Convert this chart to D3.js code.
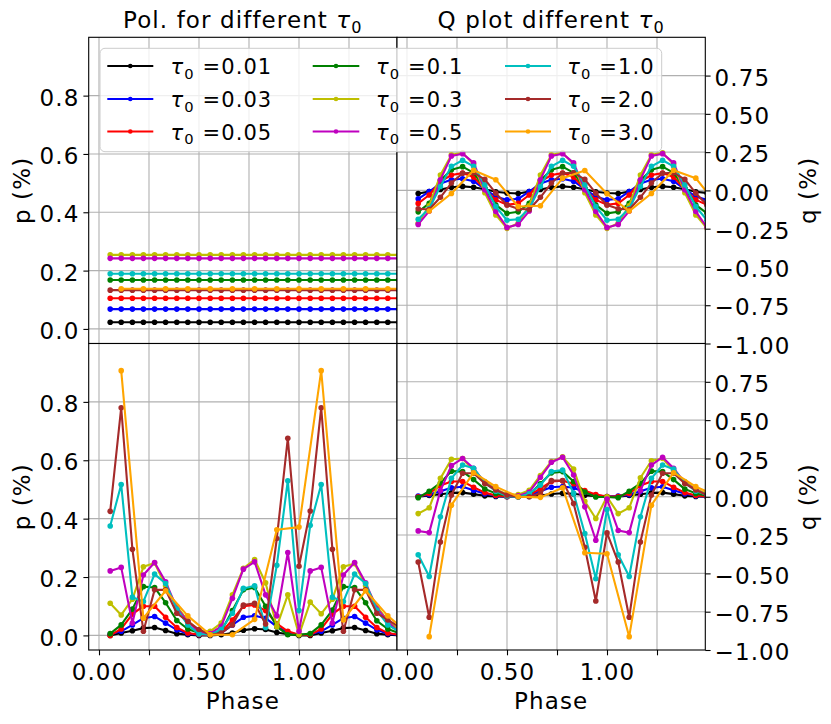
<!DOCTYPE html>
<html>
<head>
<meta charset="utf-8">
<script src="https://cdn.jsdelivr.net/npm/d3@7"></script>
<style>
  body { margin: 0; background: #fff; }
  text { font-family: "DejaVu Sans", sans-serif; fill: #000; }
</style>
</head>
<body>
<svg id="chart" width="831" height="724"></svg>
<script>
// ---- data ----
const tauLabels = ["0.01", "0.03", "0.05", "0.1", "0.3", "0.5", "1.0", "2.0", "3.0"];
const seriesColors = ["#000000", "#0000ff", "#ff0000", "#008000", "#bfbf00", "#bf00bf", "#00bfbf", "#a52a2a", "#ffa500"];

// phase sampling: most runs every 1/18, the tau=3.0 run every 1/9
const phaseFine = [0.056, 0.111, 0.167, 0.222, 0.278, 0.333, 0.389, 0.444, 0.5,
  0.556, 0.611, 0.667, 0.722, 0.778, 0.833, 0.889, 0.944, 1.0,
  1.056, 1.111, 1.167, 1.222, 1.278, 1.333, 1.389, 1.444, 1.5];
const phaseCoarse = [0.111, 0.222, 0.333, 0.444, 0.556, 0.667, 0.778, 0.889, 1.0, 1.111, 1.222, 1.333, 1.444, 1.556];
const seriesPhase = [phaseFine, phaseFine, phaseFine, phaseFine, phaseFine, phaseFine, phaseFine, phaseFine, phaseCoarse];

// top left: p (%)
const pTop = [
  [0.023, 0.023, 0.023, 0.023, 0.023, 0.023, 0.023, 0.023, 0.023, 0.023, 0.023, 0.023, 0.023, 0.023, 0.023, 0.023, 0.023, 0.023, 0.023, 0.023, 0.023, 0.023, 0.023, 0.023, 0.023, 0.023, 0.023],
  [0.068, 0.068, 0.068, 0.068, 0.068, 0.068, 0.068, 0.068, 0.068, 0.068, 0.068, 0.068, 0.068, 0.068, 0.068, 0.068, 0.068, 0.068, 0.068, 0.068, 0.068, 0.068, 0.068, 0.068, 0.068, 0.068, 0.068],
  [0.105, 0.105, 0.105, 0.105, 0.105, 0.105, 0.105, 0.105, 0.105, 0.105, 0.105, 0.105, 0.105, 0.105, 0.105, 0.105, 0.105, 0.105, 0.105, 0.105, 0.105, 0.105, 0.105, 0.105, 0.105, 0.105, 0.105],
  [0.168, 0.168, 0.168, 0.168, 0.168, 0.168, 0.168, 0.168, 0.168, 0.168, 0.168, 0.168, 0.168, 0.168, 0.168, 0.168, 0.168, 0.168, 0.168, 0.168, 0.168, 0.168, 0.168, 0.168, 0.168, 0.168, 0.168],
  [0.254, 0.254, 0.254, 0.254, 0.254, 0.254, 0.254, 0.254, 0.254, 0.254, 0.254, 0.254, 0.254, 0.254, 0.254, 0.254, 0.254, 0.254, 0.254, 0.254, 0.254, 0.254, 0.254, 0.254, 0.254, 0.254, 0.254],
  [0.242, 0.242, 0.242, 0.242, 0.242, 0.242, 0.242, 0.242, 0.242, 0.242, 0.242, 0.242, 0.242, 0.242, 0.242, 0.242, 0.242, 0.242, 0.242, 0.242, 0.242, 0.242, 0.242, 0.242, 0.242, 0.242, 0.242],
  [0.189, 0.189, 0.189, 0.189, 0.189, 0.189, 0.189, 0.189, 0.189, 0.189, 0.189, 0.189, 0.189, 0.189, 0.189, 0.189, 0.189, 0.189, 0.189, 0.189, 0.189, 0.189, 0.189, 0.189, 0.189, 0.189, 0.189],
  [0.133, 0.133, 0.133, 0.133, 0.133, 0.133, 0.133, 0.133, 0.133, 0.133, 0.133, 0.133, 0.133, 0.133, 0.133, 0.133, 0.133, 0.133, 0.133, 0.133, 0.133, 0.133, 0.133, 0.133, 0.133, 0.133, 0.133],
  [0.138, 0.138, 0.138, 0.138, 0.138, 0.138, 0.138, 0.138, 0.138, 0.138, 0.138, 0.138, 0.138, 0.138]
];

// top right: q (%)
const qTop = [
  [-0.02, -0.008, 0.006, 0.02, 0.026, 0.021, 0.007, -0.009, -0.017, -0.02, -0.008, 0.006, 0.02, 0.026, 0.021, 0.007, -0.009, -0.017, -0.02, -0.008, 0.006, 0.02, 0.026, 0.021, 0.007, -0.009, -0.017],
  [-0.055, -0.008, 0.045, 0.07, 0.076, 0.06, 0.008, -0.04, -0.062, -0.055, -0.008, 0.045, 0.07, 0.076, 0.06, 0.008, -0.04, -0.062, -0.055, -0.008, 0.045, 0.07, 0.076, 0.06, 0.008, -0.04, -0.062],
  [-0.085, -0.03, 0.058, 0.1, 0.113, 0.087, 0.008, -0.062, -0.094, -0.085, -0.03, 0.058, 0.1, 0.113, 0.087, 0.008, -0.062, -0.094, -0.085, -0.03, 0.058, 0.1, 0.113, 0.087, 0.008, -0.062, -0.094],
  [-0.14, -0.085, 0.065, 0.135, 0.155, 0.115, 0.015, -0.095, -0.15, -0.14, -0.085, 0.065, 0.135, 0.155, 0.115, 0.015, -0.095, -0.15, -0.14, -0.085, 0.065, 0.135, 0.155, 0.115, 0.015, -0.095, -0.15],
  [-0.215, -0.1, 0.1, 0.232, 0.245, 0.17, -0.015, -0.16, -0.248, -0.215, -0.1, 0.1, 0.232, 0.245, 0.17, -0.015, -0.16, -0.248, -0.215, -0.1, 0.1, 0.232, 0.245, 0.17, -0.015, -0.16, -0.248],
  [-0.222, -0.135, 0.07, 0.225, 0.24, 0.18, 0.005, -0.138, -0.242, -0.222, -0.135, 0.07, 0.225, 0.24, 0.18, 0.005, -0.138, -0.242, -0.222, -0.135, 0.07, 0.225, 0.24, 0.18, 0.005, -0.138, -0.242],
  [-0.188, -0.118, 0.025, 0.157, 0.197, 0.157, 0.037, -0.105, -0.195, -0.188, -0.118, 0.025, 0.157, 0.197, 0.157, 0.037, -0.105, -0.195, -0.188, -0.118, 0.025, 0.157, 0.197, 0.157, 0.037, -0.105, -0.195],
  [-0.12, -0.125, -0.045, 0.048, 0.112, 0.115, 0.072, -0.018, -0.095, -0.12, -0.125, -0.045, 0.048, 0.112, 0.115, 0.072, -0.018, -0.095, -0.12, -0.125, -0.045, 0.048, 0.112, 0.115, 0.072, -0.018, -0.095],
  [-0.135, -0.02, 0.132, 0.07, -0.105, -0.1, 0.08, 0.13, -0.022, -0.135, -0.02, 0.132, 0.08, -0.105]
];

// bottom left: p (%)
const pBottom = [
  [0.0, 0.008, 0.016, 0.025, 0.027, 0.017, 0.006, 0.002, 0.0, 0.0, 0.002, 0.008, 0.018, 0.023, 0.02, 0.01, 0.004, 0.0, 0.0, 0.008, 0.016, 0.025, 0.027, 0.017, 0.006, 0.002, 0.0],
  [0.004, 0.014, 0.036, 0.059, 0.065, 0.042, 0.019, 0.006, 0.002, 0.002, 0.008, 0.036, 0.062, 0.067, 0.059, 0.03, 0.01, 0.002, 0.004, 0.014, 0.036, 0.059, 0.065, 0.042, 0.019, 0.006, 0.002],
  [0.0, 0.022, 0.073, 0.1, 0.1, 0.062, 0.027, 0.008, 0.002, 0.002, 0.01, 0.053, 0.1, 0.104, 0.085, 0.04, 0.014, 0.002, 0.002, 0.022, 0.073, 0.1, 0.1, 0.062, 0.027, 0.008, 0.002],
  [0.006, 0.036, 0.09, 0.167, 0.164, 0.112, 0.051, 0.022, 0.008, 0.006, 0.014, 0.085, 0.156, 0.164, 0.1, 0.03, 0.002, 0.002, 0.006, 0.036, 0.087, 0.167, 0.164, 0.112, 0.05, 0.022, 0.008],
  [0.11, 0.07, 0.124, 0.235, 0.248, 0.17, 0.1, 0.05, 0.015, 0.014, 0.042, 0.139, 0.23, 0.26, 0.18, 0.03, 0.139, 0.002, 0.114, 0.074, 0.124, 0.235, 0.246, 0.17, 0.1, 0.05, 0.02],
  [0.221, 0.233, 0.042, 0.207, 0.25, 0.184, 0.093, 0.048, 0.01, 0.006, 0.031, 0.127, 0.227, 0.252, 0.139, 0.067, 0.284, 0.014, 0.221, 0.233, 0.042, 0.207, 0.25, 0.18, 0.093, 0.048, 0.01],
  [0.375, 0.517, 0.131, 0.116, 0.21, 0.178, 0.09, 0.036, 0.005, 0.002, 0.02, 0.076, 0.161, 0.17, 0.027, 0.24, 0.53, 0.085, 0.377, 0.517, 0.131, 0.116, 0.21, 0.178, 0.087, 0.036, 0.014],
  [0.425, 0.78, 0.295, 0.014, 0.156, 0.156, 0.076, 0.048, 0.02, 0.002, 0.008, 0.036, 0.104, 0.11, 0.039, 0.332, 0.675, 0.237, 0.426, 0.78, 0.295, 0.014, 0.156, 0.156, 0.076, 0.053, 0.03],
  [0.907, 0.059, 0.153, 0.067, 0.002, 0.002, 0.055, 0.362, 0.371, 0.907, 0.053, 0.153, 0.067, 0.002]
];

// bottom right: q (%)
const qBottom = [
  [0.0, 0.008, 0.016, 0.025, 0.027, 0.017, 0.006, 0.002, 0.0, 0.0, 0.002, 0.008, 0.018, 0.023, 0.02, 0.01, 0.004, 0.0, 0.0, 0.008, 0.016, 0.025, 0.027, 0.017, 0.006, 0.002, 0.0],
  [0.004, 0.014, 0.036, 0.059, 0.065, 0.042, 0.019, 0.006, 0.002, 0.002, 0.008, 0.036, 0.062, 0.067, 0.059, 0.03, 0.01, 0.002, 0.004, 0.014, 0.036, 0.059, 0.065, 0.042, 0.019, 0.006, 0.002],
  [0.0, 0.022, 0.073, 0.1, 0.1, 0.062, 0.027, 0.008, 0.002, 0.002, 0.01, 0.053, 0.1, 0.104, 0.085, 0.04, 0.014, 0.002, 0.002, 0.022, 0.073, 0.1, 0.1, 0.062, 0.027, 0.008, 0.002],
  [-0.006, 0.036, 0.09, 0.167, 0.164, 0.112, 0.051, 0.022, 0.008, 0.006, 0.014, 0.085, 0.156, 0.164, 0.1, 0.03, -0.002, -0.002, -0.006, 0.036, 0.087, 0.167, 0.164, 0.112, 0.05, 0.022, 0.008],
  [-0.11, -0.072, 0.12, 0.245, 0.25, 0.17, 0.1, 0.05, 0.015, 0.014, 0.042, 0.139, 0.23, 0.26, 0.18, -0.03, -0.142, 0.0, -0.11, -0.072, 0.124, 0.235, 0.25, 0.17, 0.1, 0.05, 0.02],
  [-0.223, -0.234, 0.04, 0.203, 0.25, 0.186, 0.09, 0.045, 0.01, 0.006, 0.03, 0.127, 0.225, 0.258, 0.142, -0.066, -0.284, -0.015, -0.22, -0.234, 0.04, 0.207, 0.258, 0.186, 0.09, 0.045, 0.01],
  [-0.378, -0.52, -0.131, 0.12, 0.207, 0.186, 0.09, 0.036, 0.005, -0.002, 0.02, 0.076, 0.164, 0.175, 0.022, -0.24, -0.535, -0.083, -0.378, -0.52, -0.131, 0.12, 0.207, 0.18, 0.09, 0.036, 0.014],
  [-0.426, -0.786, -0.295, 0.011, 0.153, 0.153, 0.087, 0.044, 0.011, 0.0, 0.0, 0.022, 0.105, 0.105, -0.044, -0.33, -0.68, -0.236, -0.426, -0.786, -0.295, 0.011, 0.153, 0.153, 0.087, 0.044, 0.011],
  [-0.913, -0.055, 0.157, 0.066, 0.0, -0.004, 0.059, -0.365, -0.372, -0.913, -0.055, 0.157, 0.066, 0.0]
];

const xTicks = [0, 0.25, 0.5, 0.75, 1.0, 1.25];
const xTickLabels = ["0.00", "", "0.50", "", "1.00", ""];
const pTicks = [0, 0.2, 0.4, 0.6, 0.8];
const qTicks = [-1, -0.75, -0.5, -0.25, 0, 0.25, 0.5, 0.75];

// ---- layout ----
const svg = d3.select("#chart");
const cols = [[88.7, 397], [397, 705.3]];
const rows = [[37.3, 343.5], [343.5, 650]];
const xDomains = [[-0.0515, 1.49], [-0.05, 1.4915]];
const fontSize = 23;
const tracking = 1.1;
const tickLen = 5.3;

const panels = [
  { col: 0, row: 0, data: pTop, kind: "p" },
  { col: 1, row: 0, data: qTop, kind: "q" },
  { col: 0, row: 1, data: pBottom, kind: "p" },
  { col: 1, row: 1, data: qBottom, kind: "q" }
];

panels.forEach((pn, idx) => {
  const [x0, x1] = cols[pn.col];
  const [y0, y1] = rows[pn.row];
  const x = d3.scaleLinear().domain(xDomains[pn.col]).range([x0, x1]);
  const y = pn.kind === "p"
    ? d3.scaleLinear().domain([-0.05, 1.0]).range([y1, y0])
    : d3.scaleLinear().domain([-1, 1]).range([y1, y0]);

  const g = svg.append("g");
  g.append("rect").attr("x", x0).attr("y", y0).attr("width", x1 - x0).attr("height", y1 - y0).attr("fill", "#fff");

  // clip
  const clipId = "clip" + idx;
  svg.append("clipPath").attr("id", clipId)
    .append("rect").attr("x", x0).attr("y", y0).attr("width", x1 - x0).attr("height", y1 - y0);

  // grid
  const grid = g.append("g").attr("stroke", "#b0b0b0").attr("stroke-width", 1.1);
  grid.selectAll(".vx").data(xTicks).enter().append("line")
    .attr("x1", d => x(d)).attr("x2", d => x(d)).attr("y1", y0).attr("y2", y1);
  const yGrid = pn.kind === "p" ? pTicks : qTicks.filter(d => d > -1);
  grid.selectAll(".hy").data(yGrid).enter().append("line")
    .attr("x1", x0).attr("x2", x1).attr("y1", d => y(d)).attr("y2", d => y(d));

  // series
  const plot = g.append("g").attr("clip-path", `url(#${clipId})`);
  const line = d3.line().x(d => x(d[0])).y(d => y(d[1]));
  pn.data.forEach((vals, i) => {
    const pts = d3.zip(seriesPhase[i], vals);
    plot.append("path").datum(pts)
      .attr("d", line)
      .attr("fill", "none")
      .attr("stroke", seriesColors[i])
      .attr("stroke-width", 2.1)
      .attr("stroke-linejoin", "round");
    plot.selectAll(null).data(pts).enter().append("circle")
      .attr("cx", d => x(d[0])).attr("cy", d => y(d[1]))
      .attr("r", 2.8)
      .attr("fill", seriesColors[i]);
  });

  // spines
  g.append("rect").attr("x", x0).attr("y", y0).attr("width", x1 - x0).attr("height", y1 - y0)
    .attr("fill", "none").attr("stroke", "#000").attr("stroke-width", 1.1);

  // y axis
  let yAxis;
  if (pn.kind === "p") {
    yAxis = g.append("g").attr("transform", `translate(${x0},0)`)
      .call(d3.axisLeft(y).tickValues(pTicks).tickFormat(d3.format(".1f")).tickSize(tickLen).tickPadding(3.9));
  } else {
    yAxis = g.append("g").attr("transform", `translate(${x1},0)`)
      .call(d3.axisRight(y).tickValues(qTicks).tickFormat(d3.format(".2f")).tickSize(tickLen).tickPadding(4));
  }
  yAxis.select(".domain").remove();
  yAxis.selectAll("line").attr("stroke", "#000").attr("stroke-width", 1.1);
  yAxis.selectAll("text").attr("dy", "0.42em")
    .style("font-size", fontSize + "px").style("letter-spacing", tracking + "px").attr("fill", "#000");

  // x axis on bottom row
  if (pn.row === 1) {
    const xAxis = g.append("g").attr("transform", `translate(0,${y1})`)
      .call(d3.axisBottom(x).tickValues(xTicks).tickFormat((d, i) => xTickLabels[i]).tickSize(tickLen));
    xAxis.select(".domain").remove();
    xAxis.selectAll("line").attr("stroke", "#000").attr("stroke-width", 1.1);
    xAxis.selectAll("text").attr("y", 30).attr("dy", 0)
      .style("font-size", fontSize + "px").style("letter-spacing", tracking + "px").attr("fill", "#000");

    g.append("text")
      .attr("x", (x0 + x1) / 2).attr("y", 709)
      .attr("text-anchor", "middle")
      .style("font-size", fontSize + "px").style("letter-spacing", tracking + "px")
      .text("Phase");
  }

  // y label
  const cy = (y0 + y1) / 2;
  const lx = pn.kind === "p" ? 29.5 : 816;
  g.append("text")
    .attr("transform", `translate(${lx},${cy}) rotate(-90)`)
    .attr("text-anchor", "middle")
    .style("font-size", fontSize + "px").style("letter-spacing", tracking + "px")
    .text(pn.kind === "p" ? "p (%)" : "q (%)");
});

// tau with subscript 0, as mathtext draws it
function tauText(sel, prefix, suffix, fs) {
  if (prefix) sel.append("tspan").text(prefix);
  sel.append("tspan").attr("font-style", "italic").text("τ");
  sel.append("tspan").style("font-size", (fs * 0.7) + "px").attr("dy", fs * 0.22).text("0");
  if (suffix) sel.append("tspan").attr("dy", -fs * 0.22).text(suffix);
}

// titles
const titles = ["Pol. for different ", "Q plot different "];
titles.forEach((t, i) => {
  const tt = svg.append("text")
    .attr("x", (cols[i][0] + cols[i][1]) / 2).attr("y", 28.3)
    .attr("text-anchor", "middle")
    .style("font-size", fontSize + "px").style("letter-spacing", tracking + "px");
  tauText(tt, t, "", fontSize);
});

// legend (3 columns, filled column by column)
const legFont = 21;
const leg = svg.append("g");
leg.append("rect")
  .attr("x", 100).attr("y", 48.3).attr("width", 561.7).attr("height", 103.4)
  .attr("rx", 5)
  .attr("fill", "#fff").attr("fill-opacity", 0.8)
  .attr("stroke", "#cccccc").attr("stroke-width", 1);
const legHandleX = [[107.3, 153.3], [312.7, 359.3], [505, 551]];
const legTextX = [170.5, 376, 567.3];
const legRowY = [66, 99, 131.5];
tauLabels.forEach((lab, i) => {
  const c = Math.floor(i / 3), r = i % 3;
  const ly = legRowY[r];
  leg.append("line")
    .attr("x1", legHandleX[c][0]).attr("x2", legHandleX[c][1])
    .attr("y1", ly).attr("y2", ly)
    .attr("stroke", seriesColors[i]).attr("stroke-width", 1.8);
  leg.append("circle")
    .attr("cx", (legHandleX[c][0] + legHandleX[c][1]) / 2).attr("cy", ly)
    .attr("r", 2.3).attr("fill", seriesColors[i]);
  const lt = leg.append("text")
    .attr("x", legTextX[c]).attr("y", ly + 8.3)
    .style("font-size", legFont + "px").style("letter-spacing", "1.1px");
  tauText(lt, "", " =" + lab, legFont);
});
</script>
</body>
</html>
